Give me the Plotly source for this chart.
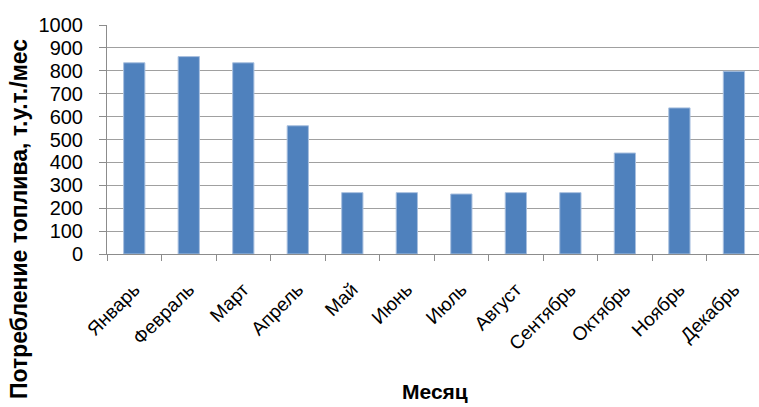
import plotly.graph_objects as go

months = ["Январь", "Февраль", "Март", "Апрель", "Май", "Июнь",
          "Июль", "Август", "Сентябрь", "Октябрь", "Ноябрь", "Декабрь"]
fuel = [835, 862, 835, 560, 268, 268, 262, 268, 268, 441, 638, 798]
y_ticks = list(range(0, 1001, 100))

W, H = 759, 407
L, R, T, B = 107, 0, 25, 153
pw, ph = W - L - R, H - T - B

fig = go.Figure(go.Bar(
    x=months, y=fuel,
    marker=dict(color="#4F81BD", line=dict(color="#a9c0df", width=1)),
    width=0.39,
))

font = "Liberation Sans"
fig.update_layout(
    width=W, height=H,
    margin=dict(l=L, r=R, t=T, b=B, pad=0),
    paper_bgcolor="white", plot_bgcolor="white",
    showlegend=False,
    font=dict(family=font, color="#000000"),
    xaxis=dict(
        type="category", range=[-0.5, 11.46],
        tickson="boundaries", ticks="outside", ticklen=6, tickcolor="#8c8c8c",
        showline=True, linecolor="#8c8c8c", linewidth=1,
        showgrid=False, tickangle=-45, ticklabelstandoff=16,
        tickfont=dict(size=19, family=font),
    ),
    yaxis=dict(
        range=[0, 1000], tickvals=y_ticks,
        ticks="outside", ticklen=7, tickcolor="#8c8c8c",
        showline=True, linecolor="#8c8c8c", linewidth=1,
        showgrid=True, gridcolor="#a0a0a0", gridwidth=1,
        tickfont=dict(size=20, family=font), ticklabelstandoff=12,
        zeroline=False,
    ),
    annotations=[
        dict(text="<b>Потребление топлива, т.у.т./мес</b>",
             xref="paper", yref="paper",
             x=(19 - L) / pw, y=(T + ph - 219) / ph,
             textangle=-90, showarrow=False,
             font=dict(size=23, family=font),
             xanchor="center", yanchor="middle"),
        dict(text="<b>Месяц</b>",
             xref="paper", yref="paper",
             x=(435 - L) / pw, y=(T + ph - 392) / ph,
             showarrow=False,
             font=dict(size=21, family=font),
             xanchor="center", yanchor="middle"),
    ],
)

fig.write_html("out.html")
